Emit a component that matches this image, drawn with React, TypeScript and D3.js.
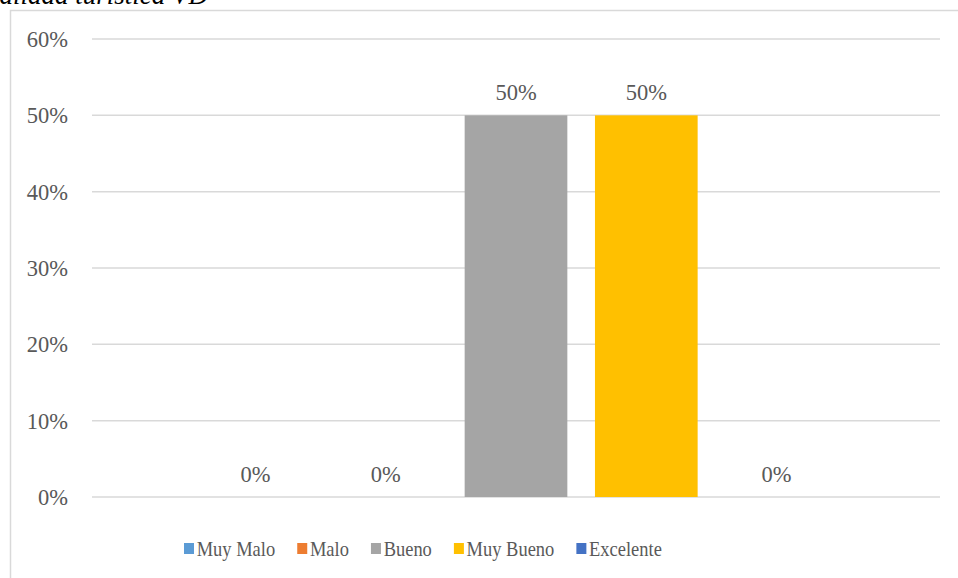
import React from "react";
import * as d3 from "d3";

const series = ["Muy Malo", "Malo", "Bueno", "Muy Bueno", "Excelente"];
const values = [0, 0, 0.5, 0.5, 0];
const colors = ["#5B9BD5", "#ED7D31", "#A5A5A5", "#FFC000", "#4472C4"];
const tickValues = [0, 0.1, 0.2, 0.3, 0.4, 0.5, 0.6];
const category = ["Calidad"];
const titleText = "Calidad turística VD";

const FONT = "'Liberation Serif', 'Times New Roman', serif";
const TEXT = "#595959";

function measure(txt: string, size: number): number {
  const c = document.createElement("canvas").getContext("2d");
  if (!c) return txt.length * size * 0.5;
  c.font = `${size}px 'Liberation Serif'`;
  return c.measureText(txt).width;
}

export default function App() {
  const W = 958, H = 578;
  const plotL = 92, plotR = 940;
  const y = d3.scaleLinear().domain([0, 0.6]).range([497, 39]);
  const x0 = d3.scaleBand().domain(category).range([plotL, plotR]).paddingInner(0).paddingOuter(0.1508);
  const x1 = d3.scaleBand().domain(series).range([0, x0.bandwidth()]).paddingInner(0.212).paddingOuter(0.106);
  const fmt = d3.format(".0%");

  const legSize = 22, legSx = 0.84;
  let lx = 184;
  const legend = series.map((s, i) => {
    const w = measure(s, legSize) * legSx;
    const item = { s, i, x: lx };
    lx += 12.7 + w + 22;
    return item;
  });

  const gx = x0(category[0]) as number;

  return (
    <svg width={W} height={H} style={{ position: "absolute", left: 0, top: 0, background: "#fff" }} fontFamily={FONT}>
      <rect x={0} y={0} width={W} height={H} fill="#fff" />
      <text x={208} y={4} textAnchor="end" fontStyle="italic" fontSize={27} fill="#000">{titleText}</text>
      <rect x={10.5} y={10.5} width={W + 10} height={H + 10} fill="#fff" stroke="#d9d9d9" strokeWidth={1.5} />
      {tickValues.map((t) => (
        <g key={t}>
          <line x1={plotL} x2={plotR} y1={y(t)} y2={y(t)} stroke="#d9d9d9" strokeWidth={1.5} />
          <text x={68} y={y(t) + 8} textAnchor="end" fontSize={22.5} fill={TEXT}>{fmt(t)}</text>
        </g>
      ))}
      {series.map((s, i) => {
        const bx = gx + (x1(s) as number);
        const bw = x1.bandwidth();
        const v = values[i];
        return (
          <g key={s}>
            {v > 0 && <rect x={bx} y={y(v)} width={bw} height={y(0) - y(v)} fill={colors[i]} />}
            <text x={bx + bw / 2} y={y(v) - 15.5} textAnchor="middle" fontSize={22.5} fill={TEXT}>{fmt(v)}</text>
          </g>
        );
      })}
      {legend.map((l) => (
        <g key={l.s}>
          <rect x={l.x} y={543} width={10} height={11} fill={colors[l.i]} />
          <text transform={`translate(${l.x + 12.7},556) scale(${legSx},1)`} fontSize={legSize} fill={TEXT}>{l.s}</text>
        </g>
      ))}
    </svg>
  );
}
